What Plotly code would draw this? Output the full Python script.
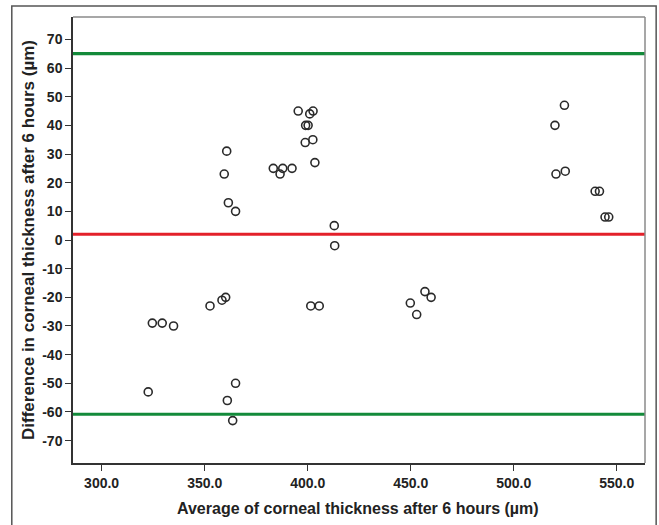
import plotly.graph_objects as go

# ---- data ----
avg_thickness = [322.6, 324.6, 329.4, 334.9, 352.6, 358.4, 360.2, 359.5, 360.7, 361.5,
                 365.0, 361.0, 363.6, 365.0, 383.3, 386.6, 387.9, 392.4, 395.4, 398.8,
                 399.0, 400.2, 401.0, 402.6, 402.5, 403.5, 401.5, 405.6, 412.9, 413.1,
                 449.8, 452.9, 456.9, 459.9, 520.0, 524.6, 520.5, 525.0, 539.5, 541.6,
                 544.3, 546.1]
diff_thickness = [-53, -29, -29, -30, -23, -21, -20, 23, 31, 13,
                  10, -56, -63, -50, 25, 23, 25, 25, 45, 34,
                  40, 40, 44, 45, 35, 27, -23, -23, 5, -2,
                  -22, -26, -18, -20, 40, 47, 23, 24, 17, 17,
                  8, 8]
upper_loa = 65.0
mean_diff = 2.0
lower_loa = -60.8

x_ticks = [300, 350, 400, 450, 500, 550]
x_tick_labels = ["300.0", "350.0", "400.0", "450.0", "500.0", "550.0"]
y_ticks = [70, 60, 50, 40, 30, 20, 10, 0, -10, -20, -30, -40, -50, -60, -70]
y_tick_labels = ["70", "60", "50", "40", "30", "20", "10", "0",
                 "-10", "-20", "-30", "-40", "-50", "-60", "-70"]

FONT = "Liberation Sans, Arial, sans-serif"

fig = go.Figure()
fig.add_trace(go.Scatter(
    x=avg_thickness, y=diff_thickness, mode="markers",
    marker=dict(symbol="circle-open", size=8, color="#2a2a2a",
                line=dict(width=1.6, color="#2a2a2a")),
    showlegend=False, hoverinfo="x+y"))

shapes = []
for val, col in [(upper_loa, "#138a3a"), (mean_diff, "#e3202a"), (lower_loa, "#138a3a")]:
    shapes.append(dict(type="line", xref="paper", x0=0, x1=1, yref="y", y0=val, y1=val,
                       line=dict(color=col, width=3.2), layer="above"))
# top and right frame of plot area (grey)
shapes.append(dict(type="line", xref="paper", yref="paper", x0=0, x1=1, y0=1, y1=1,
                   line=dict(color="#8a8a8a", width=1.5)))
shapes.append(dict(type="line", xref="paper", yref="paper", x0=1, x1=1, y0=0, y1=1,
                   line=dict(color="#8a8a8a", width=1.5)))
# outer figure frame
shapes.append(dict(type="rect", xref="paper", yref="paper", x0=-0.107, x1=1.0195,
                   y0=-0.16, y1=1.0247, line=dict(color="#555555", width=1.5),
                   fillcolor="rgba(0,0,0,0)", layer="below"))

tickfont = dict(family=FONT, size=14, color="#222222", weight="bold")

fig.update_layout(
    width=659, height=525,
    margin=dict(l=73, r=14, t=17, b=62),
    paper_bgcolor="white", plot_bgcolor="white",
    font=dict(family=FONT, color="#222222"),
    shapes=shapes,
    xaxis=dict(range=[286.1, 563.7], tickvals=x_ticks, ticktext=x_tick_labels,
               showgrid=False, zeroline=False, showline=True, linecolor="#333333",
               linewidth=1.5, ticks="outside", ticklen=6, tickwidth=1.2, tickcolor="#333333",
               tickfont=tickfont),
    yaxis=dict(range=[-77.8, 77.8], tickvals=y_ticks, ticktext=y_tick_labels,
               showgrid=False, zeroline=False, showline=True, linecolor="#333333",
               linewidth=1.5, ticks="outside", ticklen=6, tickwidth=1.2, tickcolor="#333333",
               tickfont=tickfont),
    annotations=[
        dict(text="<b>Average of corneal thickness after 6 hours (µm)</b>",
             xref="paper", yref="paper", x=0.498, y=-0.101, showarrow=False,
             xanchor="center", yanchor="middle",
             font=dict(family=FONT, size=16, color="#222222")),
        dict(text="<b>Difference in corneal thickness after 6 hours (µm)</b>",
             xref="paper", yref="paper", x=-0.0787, y=0.5, showarrow=False,
             textangle=-90, xanchor="center", yanchor="middle",
             font=dict(family=FONT, size=17, color="#222222")),
    ],
)

fig.write_html("out.html", config={"displayModeBar": False},
               post_script="document.body.style.margin='0';document.body.style.overflow='hidden';")
